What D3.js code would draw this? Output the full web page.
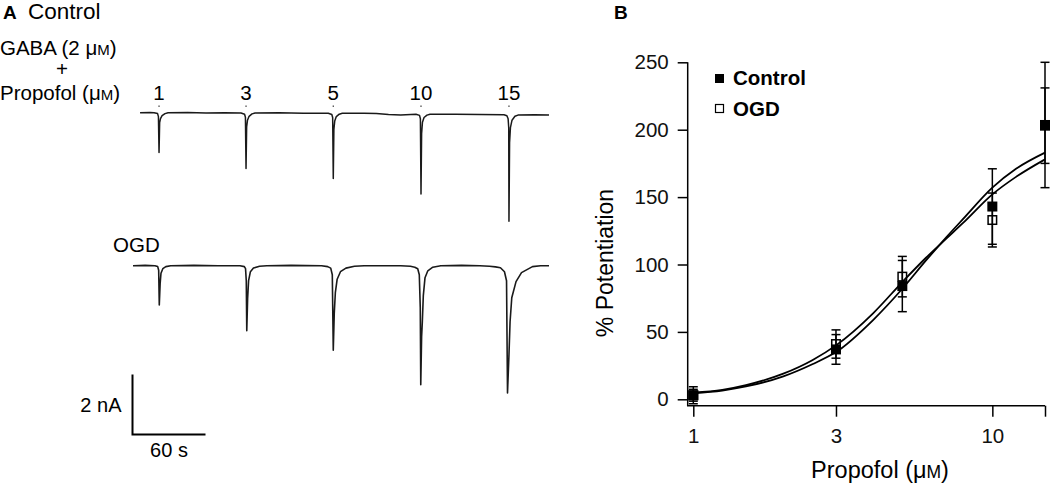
<!DOCTYPE html>
<html>
<head>
<meta charset="utf-8">
<script src="https://cdn.jsdelivr.net/npm/d3@7"></script>
<style>
  body { margin: 0; background: #fff; }
  svg { font-family: "Liberation Sans", Arial, Helvetica, sans-serif; }
</style>
</head>
<body>
<svg id="fig" width="1050" height="485"></svg>
<script>
const width = 1050, height = 485;

// ---- panel A data: current traces (time in s, current in nA) ----
const concLabels = ["1", "3", "5", "10", "15"];
const ctrlSpikeTimes = [21.4, 92.9, 164.6, 236.7, 309.0];

const ctrlTrace = [
  [5.8, 0], [14, 0.01], [17.3, 0],
  [20.2, -0.03], [20.9, -0.13], [21.4, -1.33], [21.9, -0.33], [22.6, -0.2], [23.9, -0.1], [26.3, -0.03], [28.8, 0],
  [45, 0.01], [60, -0.01], [75, 0], [88.8, -0.01],
  [91.7, -0.05], [92.4, -0.15], [92.9, -1.86], [93.4, -0.47], [94.1, -0.25], [95.4, -0.12], [97.8, -0.04], [100.3, -0.01],
  [120, 0], [140, -0.02], [160.5, -0.02],
  [163.4, -0.06], [164.1, -0.16], [164.6, -2.19], [165.1, -0.56], [165.8, -0.28], [167.1, -0.13], [169.5, -0.05], [172, -0.02],
  [190, -0.02], [200, -0.03], [210, -0.06], [220, -0.08], [232.6, -0.05],
  [235.5, -0.09], [236.2, -0.2], [236.7, -2.71], [237.2, -0.7], [237.9, -0.32], [239.2, -0.16], [241.6, -0.08], [244.1, -0.05],
  [265, -0.05], [285, -0.06], [304.9, -0.07],
  [307.3, -0.1], [308.3, -0.2], [308.8, -0.5], [309, -3.62], [309.5, -1.0], [310.2, -0.5], [311.5, -0.25], [313.9, -0.12], [316.4, -0.08],
  [330, -0.07], [341.9, -0.08]
];

const ogdTrace = [
  [0, 0], [10, 0.01], [18, 0],
  [20.3, -0.03], [21.1, -0.15], [21.6, -1.31], [22.3, -0.6], [23, -0.25], [24.5, -0.1], [27, -0.03], [31, 0],
  [50, 0.01], [70, 0], [88, 0],
  [91.5, -0.03], [92.5, -0.1], [93.1, -0.5], [93.5, -2.17], [94.2, -1.1], [95, -0.5], [96.5, -0.2], [99, -0.08], [104, -0.02], [110, 0],
  [130, 0.01], [155, 0],
  [160, -0.03], [162.5, -0.08], [163.8, -0.3], [164.6, -2.82], [165.4, -1.6], [166.3, -0.9], [167.8, -0.45], [170.5, -0.2], [175, -0.08], [182, -0.02], [190, 0],
  [210, 0], [220, 0],
  [228, -0.02], [231.6, -0.05], [234, -0.1], [235.3, -0.3], [236.1, -1.4], [236.5, -3.97], [237.2, -2.37], [237.8, -1.87], [238.6, -1.0], [240, -0.4], [242.3, -0.17], [246.4, -0.05], [253, 0],
  [270, 0.01], [285, 0], [293, -0.02],
  [297.9, -0.04], [302, -0.07], [305.3, -0.2], [307, -0.5], [307.8, -4.24], [309, -2.97], [309.9, -1.87], [311.3, -1.07], [314.8, -0.53], [319.3, -0.23], [328.3, -0.03], [335, 0], [341.9, 0]
];

// ---- panel B data ----
const doses = [1, 3, 5, 10, 15];
const ctrlMean = [3, 37, 84, 143, 203.5];
const ctrlSem = [6.3, 11, 19, 28, 46.5];
const ogdMean = [3, 41, 91, 133, 203];
const ogdSem = [4.4, 10.5, 15, 20, 28];

const fitDose = [1, 1.25, 1.5, 2, 2.5, 3, 4, 5, 6, 7, 8, 10, 12, 15];
const ctrlFit = [4.5, 6.5, 9.5, 17, 26, 35, 59, 82, 103, 120, 134, 157, 171, 183];
const ogdFit = [5, 7, 10.5, 19, 29, 40, 64, 87, 105, 119, 131, 152, 165, 178];

const yTicks = [0, 50, 100, 150, 200, 250];
const xTicks = [1, 3, 10, 15];

const svg = d3.select("#fig");

// ================= Panel A =================
svg.append("text").attr("x", 3).attr("y", 19).attr("font-size", 19).attr("font-weight", "bold").text("A");
svg.append("text").attr("x", 28).attr("y", 19).attr("font-size", 22.5).text("Control");

const xT = d3.scaleLinear().domain([0, 341.9]).range([133, 549]);
const yCtrl = d3.scaleLinear().domain([0, -4]).range([112.7, 232.7]);
const yOgd = d3.scaleLinear().domain([0, -4]).range([265.7, 385.7]);

// drug labels
const lab = svg.append("g").attr("font-size", 20.5);
const gt = lab.append("text").attr("x", 0).attr("y", 55).text("GABA (2 μ");
gt.append("tspan").attr("font-size", 15).text("M");
gt.append("tspan").text(")");
lab.append("text").attr("x", 62).attr("y", 76).attr("text-anchor", "middle").text("+");
const pt = lab.append("text").attr("x", 0).attr("y", 100).text("Propofol (μ");
pt.append("tspan").attr("font-size", 15).text("M");
pt.append("tspan").text(")");

lab.selectAll(".conc").data(concLabels).join("text")
  .attr("class", "conc")
  .attr("x", (d, i) => xT(ctrlSpikeTimes[i]))
  .attr("y", 100)
  .attr("text-anchor", "middle")
  .text(d => d);
svg.selectAll(".dot").data(ctrlSpikeTimes).join("rect")
  .attr("class", "dot")
  .attr("x", d => xT(d) - 0.6).attr("y", 105.5).attr("width", 1.2).attr("height", 1.4)
  .attr("fill", "#333");

const lineCtrl = d3.line().x(d => xT(d[0])).y(d => yCtrl(d[1]));
const lineOgd = d3.line().x(d => xT(d[0])).y(d => yOgd(d[1]));

svg.append("path").datum(ctrlTrace).attr("d", lineCtrl)
  .attr("fill", "none").attr("stroke", "#1a1a1a").attr("stroke-width", 1.5).attr("stroke-linejoin", "round");
svg.append("path").datum(ogdTrace).attr("d", lineOgd)
  .attr("fill", "none").attr("stroke", "#1a1a1a").attr("stroke-width", 1.6).attr("stroke-linejoin", "round");

svg.append("text").attr("x", 113).attr("y", 252).attr("font-size", 20.5).text("OGD");

// scale bar: 60 s, 2 nA
const sbX = 132.5, sbY = 434.5;
const sbW = xT(60) - xT(0), sbH = yOgd(-2) - yOgd(0);
svg.append("path")
  .attr("d", `M${sbX},${sbY - sbH}V${sbY}H${sbX + sbW}`)
  .attr("fill", "none").attr("stroke", "#000").attr("stroke-width", 2);
svg.append("text").attr("x", sbX - 11).attr("y", sbY - sbH / 2 + 7).attr("text-anchor", "end").attr("font-size", 20).text("2 nA");
svg.append("text").attr("x", sbX + sbW / 2).attr("y", 457).attr("text-anchor", "middle").attr("font-size", 20).text("60 s");

// ================= Panel B =================
svg.append("text").attr("x", 614).attr("y", 19).attr("font-size", 19).attr("font-weight", "bold").text("B");

const xD = d3.scaleLog().domain([1, 15]).range([693.3, 1045]);
const yP = d3.scaleLinear().domain([0, 250]).range([399.3, 62.3]);
const axX0 = 687.7, axY0 = 405.7;

const gy = svg.append("g").attr("transform", `translate(${axX0},0)`)
  .call(d3.axisLeft(yP).tickValues(yTicks).tickSize(10).tickPadding(9));
const gx = svg.append("g").attr("transform", `translate(0,${axY0})`)
  .call(d3.axisBottom(xD).tickValues(xTicks).tickFormat(d => d === 15 ? "" : d).tickSize(11).tickPadding(12));
[gx, gy].forEach(g => {
  g.select(".domain").remove();
  g.selectAll("line").attr("stroke", "#000").attr("stroke-width", 1.5);
  g.selectAll("text").attr("font-size", 20.5).attr("fill", "#111").attr("font-family", "Liberation Sans, Arial, sans-serif");
});
svg.append("path")
  .attr("d", `M${axX0},${yP(250)}V${axY0}H${xD(15)}`)
  .attr("fill", "none").attr("stroke", "#000").attr("stroke-width", 1.5);

// axis titles
svg.append("text")
  .attr("transform", `translate(613,263) rotate(-90)`)
  .attr("text-anchor", "middle").attr("font-size", 23).text("% Potentiation");
const xt = svg.append("text").attr("x", 880).attr("y", 478).attr("text-anchor", "middle").attr("font-size", 23.5).text("Propofol (μ");
xt.append("tspan").attr("font-size", 17.5).text("M");
xt.append("tspan").text(")");

// fitted curves
const fitLine = d3.line().curve(d3.curveMonotoneX).x(d => xD(d[0])).y(d => yP(d[1]));
svg.append("path").datum(fitDose.map((d, i) => [d, ctrlFit[i]])).attr("d", fitLine)
  .attr("fill", "none").attr("stroke", "#000").attr("stroke-width", 1.8);
svg.append("path").datum(fitDose.map((d, i) => [d, ogdFit[i]])).attr("d", fitLine)
  .attr("fill", "none").attr("stroke", "#000").attr("stroke-width", 1.8);

// error bars
function errorBars(mean, sem) {
  const g = svg.append("g").attr("stroke", "#000").attr("stroke-width", 1.5);
  doses.forEach((d, i) => {
    const x = xD(d), y1 = yP(mean[i] + sem[i]), y2 = yP(mean[i] - sem[i]);
    g.append("line").attr("x1", x).attr("x2", x).attr("y1", y1).attr("y2", y2);
    g.append("line").attr("x1", x - 4.5).attr("x2", x + 4.5).attr("y1", y1).attr("y2", y1);
    g.append("line").attr("x1", x - 4.5).attr("x2", x + 4.5).attr("y1", y2).attr("y2", y2);
  });
}
errorBars(ogdMean, ogdSem);
errorBars(ctrlMean, ctrlSem);

const ms = 10;
svg.selectAll(".ogd").data(doses).join("rect")
  .attr("class", "ogd")
  .attr("x", d => xD(d) - ms / 2 + 0.75).attr("y", (d, i) => yP(ogdMean[i]) - ms / 2 + 0.75)
  .attr("width", ms - 1.5).attr("height", ms - 1.5)
  .attr("fill", "none").attr("stroke", "#000").attr("stroke-width", 1.5);
svg.selectAll(".ctrl").data(doses).join("rect")
  .attr("class", "ctrl")
  .attr("x", d => xD(d) - ms / 2).attr("y", (d, i) => yP(ctrlMean[i]) - ms / 2)
  .attr("width", ms).attr("height", ms)
  .attr("fill", "#000");

// legend
const leg = svg.append("g");
leg.append("rect").attr("x", 715).attr("y", 74).attr("width", 9).attr("height", 9).attr("fill", "#000");
leg.append("text").attr("x", 733).attr("y", 85).attr("font-size", 20.5).attr("font-weight", "bold").text("Control");
leg.append("rect").attr("x", 715.5).attr("y", 104.5).attr("width", 8).attr("height", 8)
  .attr("fill", "none").attr("stroke", "#000").attr("stroke-width", 1.2);
leg.append("text").attr("x", 733).attr("y", 116).attr("font-size", 20.5).attr("font-weight", "bold").text("OGD");
</script>
</body>
</html>
